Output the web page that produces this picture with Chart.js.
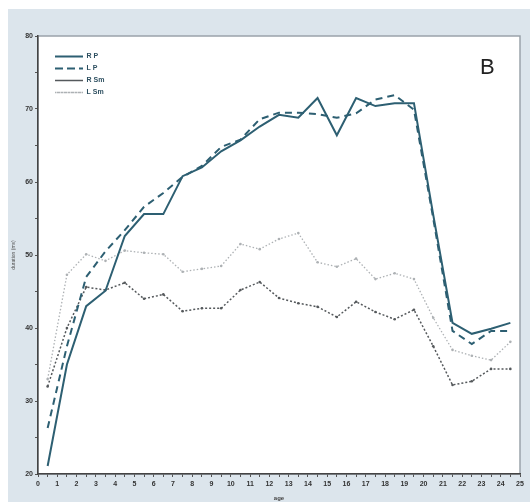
<!DOCTYPE html>
<html>
<head>
<meta charset="utf-8">
<script src="https://cdn.jsdelivr.net/npm/chart.js@4/dist/chart.umd.min.js"></script>
<style>
  body { margin: 0; background: #fff; }
  #wrap { width: 530px; height: 502px; }
</style>
</head>
<body>
<div id="wrap"><canvas id="line-chart" width="530" height="502"></canvas></div>
<script>
// ages of the measured points (years)
var ages = [0.5, 1.5, 2.5, 3.5, 4.5, 5.5, 6.5, 7.5, 8.5, 9.5, 10.5, 11.5, 12.5,
            13.5, 14.5, 15.5, 16.5, 17.5, 18.5, 19.5, 20.5, 21.5, 22.5, 23.5, 24.5];

var rP  = [21.1, 35.0, 43.0, 45.1, 52.6, 55.6, 55.6, 60.8, 62.0, 64.2, 65.7, 67.6, 69.2,
           68.8, 71.5, 66.4, 71.5, 70.4, 70.8, 70.8, 55.5, 40.7, 39.2, 39.9, 40.7];
var lP  = [26.3, 37.5, 47.0, 50.5, 53.4, 56.6, 58.5, 60.7, 62.2, 64.8, 65.8, 68.6, 69.5,
           69.5, 69.3, 68.8, 69.4, 71.3, 71.9, 69.9, 55.0, 39.6, 37.8, 39.6, 39.6];
var rSm = [32.0, 40.0, 45.6, 45.2, 46.2, 44.0, 44.6, 42.3, 42.7, 42.7, 45.2, 46.3, 44.1,
           43.4, 42.9, 41.5, 43.6, 42.2, 41.2, 42.5, 37.5, 32.2, 32.7, 34.4, 34.4];
var lSm = [33.0, 47.3, 50.1, 49.2, 50.6, 50.3, 50.1, 47.7, 48.1, 48.5, 51.5, 50.8, 52.2,
           53.0, 49.0, 48.4, 49.5, 46.7, 47.5, 46.7, 41.4, 37.0, 36.2, 35.6, 38.1];

var xLabels = [0, 1, 2, 3, 4, 5, 6, 7, 8, 9, 10, 11, 12, 13, 14, 15, 16, 17, 18, 19, 20, 21, 22, 23, 24, 25];
var yLabels = [20, 30, 40, 50, 60, 70, 80];

function pts(values) {
    return values.map(function (v, i) { return { x: ages[i], y: v }; });
}

var tickFont = { family: 'Liberation Sans', size: 7, weight: 'bold' };

var panel = {
    id: 'panel',
    afterLayout: function (chart) {
        // put the legend inside the plot, top left
        chart.legend.left = chart.chartArea.left + 12;
        chart.legend.top = chart.chartArea.top + 12;
    },
    beforeDraw: function (chart) {
        var ctx = chart.ctx, a = chart.chartArea;
        ctx.save();
        ctx.fillStyle = '#ffffff';
        ctx.fillRect(0, 0, chart.width, chart.height);
        ctx.fillStyle = '#dce5ec';
        ctx.fillRect(8, 9, chart.width - 8, chart.height - 9);
        ctx.fillStyle = '#ffffff';
        ctx.fillRect(a.left, a.top, a.right - a.left, a.bottom - a.top);
        ctx.strokeStyle = '#9aa3aa';
        ctx.lineWidth = 1.5;
        ctx.strokeRect(a.left, a.top, a.right - a.left, a.bottom - a.top);
        ctx.restore();
    },
    afterDraw: function (chart) {
        var ctx = chart.ctx, a = chart.chartArea;
        ctx.save();
        ctx.fillStyle = '#222';
        ctx.font = '22px "Liberation Sans"';
        ctx.textAlign = 'left';
        ctx.textBaseline = 'alphabetic';
        ctx.fillText('B', a.right - 40, a.top + 38);
        ctx.restore();
    }
};

new Chart(document.getElementById("line-chart"), {
    type: 'line',
    data: {
        datasets: [{
            data: pts(rP),
            label: "R P",
            borderColor: "#2d5f72",
            backgroundColor: "#2d5f72",
            borderWidth: 2,
            pointRadius: 0,
            fill: false
        }, {
            data: pts(lP),
            label: "L P",
            borderColor: "#2d5f72",
            backgroundColor: "#2d5f72",
            borderWidth: 2,
            borderDash: [7, 5],
            pointRadius: 0,
            fill: false
        }, {
            data: pts(rSm),
            label: "R Sm",
            borderColor: "#55595c",
            backgroundColor: "#55595c",
            borderWidth: 1.5,
            borderDash: [2, 2],
            pointRadius: 1.3,
            pointBorderWidth: 0,
            fill: false
        }, {
            data: pts(lSm),
            label: "L Sm",
            borderColor: "#adb1b4",
            backgroundColor: "#adb1b4",
            borderWidth: 1.3,
            borderDash: [1.5, 2],
            pointRadius: 1.3,
            pointBorderWidth: 0,
            fill: false
        }]
    },
    plugins: [panel],
    options: {
        responsive: false,
        animation: false,
        layout: { padding: { left: 8, top: 36, right: 10, bottom: 0 } },
        plugins: {
            legend: {
                position: 'chartArea',
                align: 'start',
                labels: {
                    boxWidth: 28,
                    boxHeight: 0,
                    padding: 5,
                    color: '#2d4f60',
                    font: { family: 'Liberation Sans', size: 7, weight: 'bold' }
                }
            },
            tooltip: { enabled: false }
        },
        scales: {
            x: {
                type: 'linear',
                min: 0,
                max: 25,
                afterFit: function (s) { s.height = 28; },
                afterBuildTicks: function (s) {
                    var t = [];
                    xLabels.forEach(function (v, i) {
                        t.push({ value: v });
                        if (i < xLabels.length - 1) t.push({ value: v + 0.5 });
                    });
                    s.ticks = t;
                },
                ticks: {
                    autoSkip: false,
                    maxRotation: 0,
                    padding: 3,
                    color: '#333',
                    font: tickFont,
                    callback: function (v) { return xLabels.indexOf(v) >= 0 ? String(v) : ''; }
                },
                grid: { drawOnChartArea: false, tickLength: 3, color: '#555' },
                border: { display: true, color: '#444', width: 1.5 },
                title: {
                    display: true,
                    text: 'age',
                    color: '#444',
                    padding: 0,
                    font: { family: 'Liberation Sans', size: 6, weight: 'bold' }
                }
            },
            y: {
                min: 20,
                max: 80,
                afterFit: function (s) { s.width = 30; },
                afterBuildTicks: function (s) {
                    var t = [];
                    yLabels.forEach(function (v, i) {
                        t.push({ value: v });
                        if (i < yLabels.length - 1) t.push({ value: v + 5 });
                    });
                    s.ticks = t;
                },
                ticks: {
                    padding: 2,
                    color: '#333',
                    font: tickFont,
                    callback: function (v) { return yLabels.indexOf(v) >= 0 ? String(v) : ''; }
                },
                grid: { drawOnChartArea: false, tickLength: 3, color: '#555' },
                border: { display: true, color: '#444', width: 1.5 },
                title: {
                    display: true,
                    text: 'duration (ms)',
                    color: '#555',
                    padding: { top: 3, bottom: 0 },
                    font: { family: 'Liberation Sans', size: 5 }
                }
            }
        }
    }
});
</script>
</body>
</html>
